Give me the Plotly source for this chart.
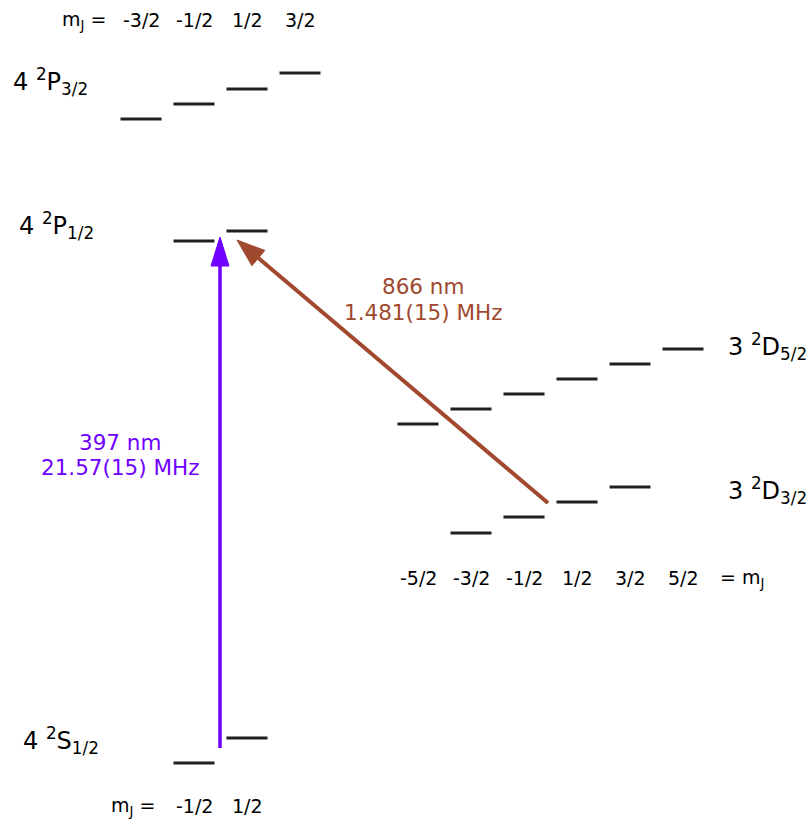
import numpy as np
import plotly.graph_objects as go

# ---------------- data ----------------
# magnetic sublevels m_J and energies (arbitrary units, bottom = 0)
P32_mJ = [-1.5, -0.5, 0.5, 1.5]
P32_E = [703, 718, 733, 749]
P12_mJ = [-0.5, 0.5]
P12_E = [581, 591]
S12_mJ = [-0.5, 0.5]
S12_E = [59, 84]
D52_mJ = [-2.5, -1.5, -0.5, 0.5, 1.5, 2.5]
D52_E = [398, 413, 428, 443, 458, 473]
D32_mJ = [-1.5, -0.5, 0.5, 1.5]
D32_E = [289, 305, 320, 335]

level_names = ["4 <sup>2</sup>P<sub>3/2</sub>", "4 <sup>2</sup>P<sub>1/2</sub>",
               "4 <sup>2</sup>S<sub>1/2</sub>", "3 <sup>2</sup>D<sub>5/2</sub>",
               "3 <sup>2</sup>D<sub>3/2</sub>"]
level_name_E = [741, 597, 82, 476, 332]

top_mJ_labels = ["-3/2", "-1/2", "1/2", "3/2"]
top_mJ_vals = [-1.5, -0.5, 0.5, 1.5]
D_mJ_labels = ["-5/2", "-3/2", "-1/2", "1/2", "3/2", "5/2"]
D_mJ_vals = [-2.5, -1.5, -0.5, 0.5, 1.5, 2.5]
S_mJ_labels = ["-1/2", "1/2"]
S_mJ_vals = [-0.5, 0.5]

# transitions: (x position, energy) of tail and tip
arrow397_x = [220, 220]
arrow397_E = [74, 585]
arrow866_x = [548, 237]
arrow866_E = [319, 582]
trans397_text = ["397 nm", "21.57(15) MHz"]
trans866_text = ["866 nm", "1.481(15) MHz"]

# ---------------- layout constants ----------------
W, H = 807, 822
LEFT0, RIGHT0, STEP, HALF = 220.5, 550.5, 53, 20.5
BAR = "#231f20"
PURPLE = "#7000ff"
BROWN = "#a0492f"
FONT = "DejaVu Sans"

fig = go.Figure()


def add_levels(mj, E, origin):
    xs, ys = [], []
    for m, e in zip(mj, E):
        c = origin + STEP * m
        xs += [c - HALF, c + HALF, None]
        ys += [e, e, None]
    fig.add_trace(go.Scatter(x=xs, y=ys, mode="lines",
                             line=dict(color=BAR, width=3),
                             hoverinfo="skip", showlegend=False))


add_levels(P32_mJ, P32_E, LEFT0)
add_levels(P12_mJ, P12_E, LEFT0)
add_levels(S12_mJ, S12_E, LEFT0)
add_levels(D52_mJ, D52_E, RIGHT0)
add_levels(D32_mJ, D32_E, RIGHT0)


def add_arrow(xs, ys, color, width, head_len, head_half):
    t = np.array([xs[0], ys[0]], float)
    p = np.array([xs[1], ys[1]], float)
    u = (p - t) / np.linalg.norm(p - t)
    n = np.array([-u[1], u[0]])
    b = p - head_len * u
    fig.add_trace(go.Scatter(x=[t[0], b[0] + u[0] * 2], y=[t[1], b[1] + u[1] * 2],
                             mode="lines", line=dict(color=color, width=width),
                             hoverinfo="skip", showlegend=False))
    c1 = b + head_half * n
    c2 = b - head_half * n
    fig.add_trace(go.Scatter(x=[p[0], c1[0], c2[0], p[0]],
                             y=[p[1], c1[1], c2[1], p[1]],
                             mode="lines", fill="toself", fillcolor=color,
                             line=dict(color=color, width=1),
                             hoverinfo="skip", showlegend=False))


add_arrow(arrow397_x, arrow397_E, PURPLE, 3.5, 29, 9)
add_arrow(arrow866_x, arrow866_E, BROWN, 4, 28, 10)

ann = []


def text(x, y, s, size, color="#111", xanchor="center"):
    ann.append(dict(x=x, y=y, xref="x", yref="y", text=s, showarrow=False,
                    xanchor=xanchor, yanchor="middle",
                    font=dict(family=FONT, size=size, color=color)))


# level names
name_x = [11, 17, 21, 726, 726]
for nm, e, x in zip(level_names, level_name_E, name_x):
    text(x, e, nm, 24, "#000", "left")

# top m_J row
text(84, H - 20, "m<sub>J</sub> =", 19, "#000")
for lab, m in zip(top_mJ_labels, top_mJ_vals):
    text(LEFT0 + STEP * m, H - 20, lab, 19, "#000")

# D m_J row
for lab, m in zip(D_mJ_labels, D_mJ_vals):
    text(RIGHT0 + STEP * m, H - 578, lab, 19, "#000")
text(742, H - 578, "= m<sub>J</sub>", 19, "#000")

# S m_J row
text(133, H - 806, "m<sub>J</sub> =", 19, "#000")
for lab, m in zip(S_mJ_labels, S_mJ_vals):
    text(LEFT0 + STEP * m, H - 806, lab, 19, "#000")

# transition labels
text(120, H - 442, trans397_text[0], 21.5, PURPLE)
text(120, H - 467, trans397_text[1], 21.5, PURPLE)
text(423, H - 286, trans866_text[0], 21.5, BROWN)
text(423, H - 312, trans866_text[1], 21.5, BROWN)

fig.update_layout(
    width=W, height=H, autosize=False,
    margin=dict(l=0, r=0, t=0, b=0),
    paper_bgcolor="white", plot_bgcolor="white",
    xaxis=dict(range=[0, W], visible=False, fixedrange=True),
    yaxis=dict(range=[0, H], visible=False, fixedrange=True),
    annotations=ann,
    font=dict(family=FONT),
)

fig.write_html("out.html", post_script="document.body.style.margin='0';",
               config={"displayModeBar": False})
